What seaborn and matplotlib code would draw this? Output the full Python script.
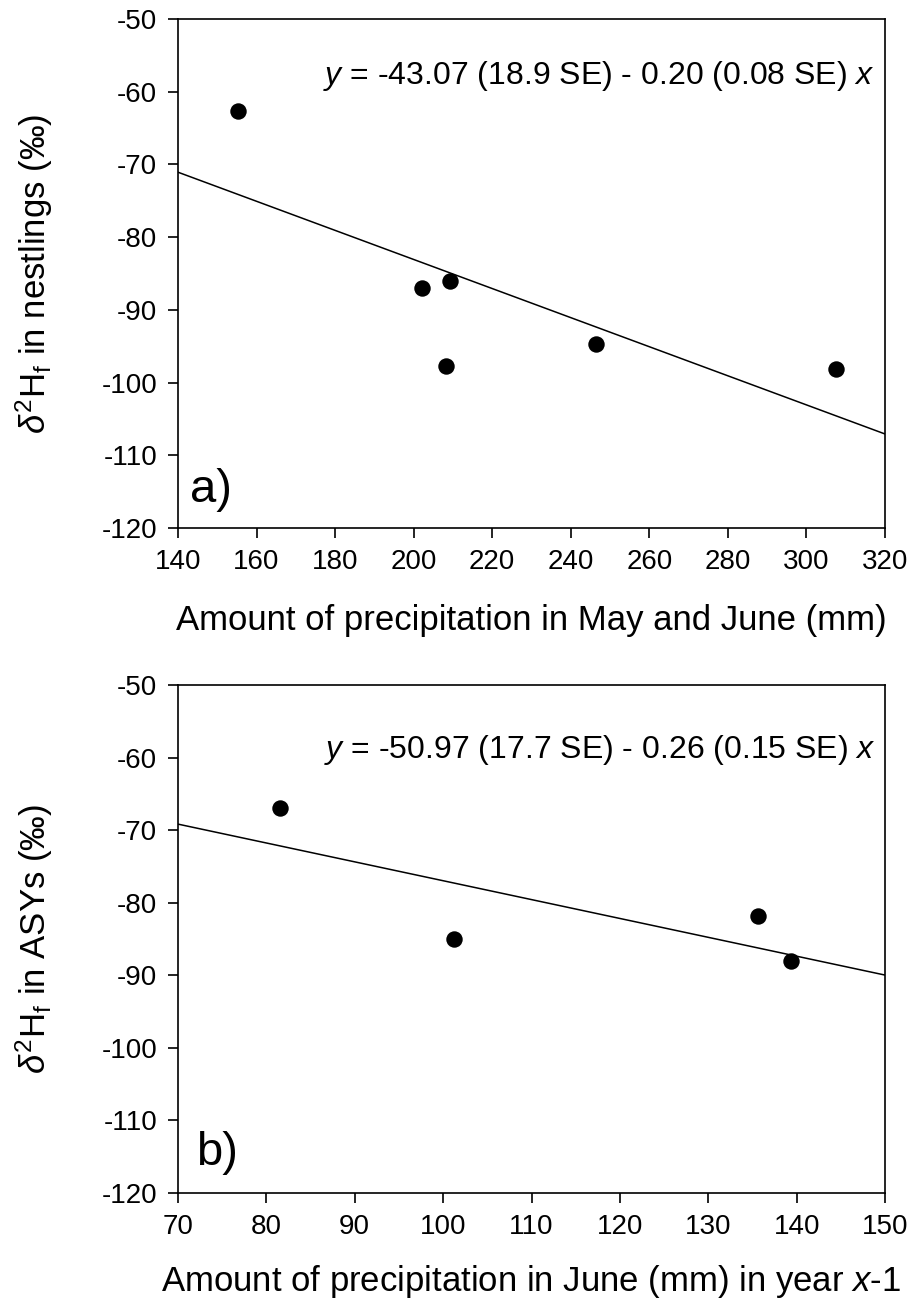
import matplotlib
matplotlib.use("Agg")
import matplotlib.pyplot as plt
import seaborn as sns
import pandas as pd
import numpy as np

# ---- data ----
precip_mayjune = [155.4, 202.0, 209.3, 208.3, 246.5, 307.5]
d2h_nestlings = [-62.6, -87.0, -86.0, -97.7, -94.7, -98.1]
coef_a = [-43.07, -0.20]  # intercept, slope
xlim_a = [140, 320]

precip_june_prev = [81.5, 101.2, 135.6, 139.4]
d2h_asy = [-66.9, -85.0, -81.8, -88.1]
coef_b = [-50.97, -0.26]
xlim_b = [70, 150]

xticks_a = list(range(140, 321, 20))
xticks_b = list(range(70, 151, 10))
yticks = list(range(-120, -49, 10))

eq_a = r"$\mathit{y}$ = -43.07 (18.9 SE) - 0.20 (0.08 SE) $\mathit{x}$"
eq_b = r"$\mathit{y}$ = -50.97 (17.7 SE) - 0.26 (0.15 SE) $\mathit{x}$"
ylab_a = r"$\mathit{δ}^{2}\mathrm{H}_{\mathrm{f}}$ in nestlings (‰)"
ylab_b = r"$\mathit{δ}^{2}\mathrm{H}_{\mathrm{f}}$ in ASYs (‰)"
xlab_a = "Amount of precipitation in May and June (mm)"
xlab_b = r"Amount of precipitation in June (mm) in year $\mathit{x}$-1"

sns.set_theme(style="ticks")
plt.rcParams["font.family"] = ["Liberation Sans", "DejaVu Sans"]
plt.rcParams["mathtext.fontset"] = "custom"
plt.rcParams["mathtext.rm"] = "Liberation Sans"
plt.rcParams["mathtext.it"] = "Liberation Sans:italic"
plt.rcParams["mathtext.bf"] = "Liberation Sans:bold"
plt.rcParams["axes.unicode_minus"] = False
plt.rcParams["text.color"] = "black"
plt.rcParams["axes.labelcolor"] = "black"
plt.rcParams["xtick.color"] = "black"
plt.rcParams["ytick.color"] = "black"

fig = plt.figure(figsize=(9.11, 13.04), dpi=100)
L, R = 178 / 911, 885 / 911
axa = fig.add_axes([L, 1 - 528 / 1304, R - L, (528 - 19) / 1304])
axb = fig.add_axes([L, 1 - 1193 / 1304, R - L, (1193 - 685) / 1304])

panels = [
    (axa, precip_mayjune, d2h_nestlings, coef_a, xlim_a, xticks_a, eq_a, ylab_a, xlab_a, "a)", (0.985, 0.888), (0.017, 0.075), 21),
    (axb, precip_june_prev, d2h_asy, coef_b, xlim_b, xticks_b, eq_b, ylab_b, xlab_b, "b)", (0.987, 0.872), (0.026, 0.079), 17),
]

for ax, xs, ys, coef, xl, xt, eq, yl, xlab, tag, eqpos, tagpos, xlpad in panels:
    df = pd.DataFrame({"x": xs, "y": ys})
    lx = np.array(xl, dtype=float)
    line = pd.DataFrame({"x": lx, "y": coef[0] + coef[1] * lx})
    sns.lineplot(data=line, x="x", y="y", ax=ax, color="black", linewidth=1.1)
    sns.scatterplot(data=df, x="x", y="y", ax=ax, color="black", s=140,
                    edgecolor="black", linewidth=0, zorder=3)
    ax.set_xlim(xl)
    ax.set_ylim(-120, -50)
    ax.set_xticks(xt)
    ax.set_yticks(yticks)
    ax.tick_params(axis="both", direction="out", length=7, width=1.2,
                   labelsize=20, colors="black", pad=8)
    ax.tick_params(top=False, right=False)
    for sp in ax.spines.values():
        sp.set_visible(True)
        sp.set_linewidth(1.2)
        sp.set_color("black")
    ax.set_xlabel(xlab, fontsize=25, labelpad=xlpad)
    ax.set_ylabel(yl, fontsize=25)
    ax.yaxis.set_label_coords(-0.174, 0.5)
    ax.text(eqpos[0], eqpos[1], eq, transform=ax.transAxes, ha="right",
            va="center", fontsize=23)
    ax.text(tagpos[0], tagpos[1], tag, transform=ax.transAxes, ha="left",
            va="center", fontsize=34)

fig.savefig("out.png", dpi=100)
